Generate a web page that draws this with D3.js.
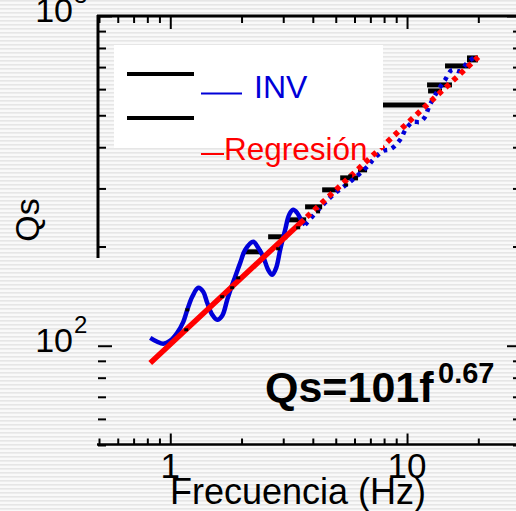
<!DOCTYPE html>
<html><head><meta charset="utf-8">
<script src="https://cdn.jsdelivr.net/npm/d3@7"></script>
<style>html,body{margin:0;padding:0;background:#fff;overflow:hidden}text{font-family:"Liberation Sans",Arial,sans-serif}</style>
</head><body>
<svg id="c" width="516" height="511"></svg>
<script>
// ---- data ----
const invF = [0.823,0.881,0.934,1.0,1.07,1.135,1.18,1.238,1.313,1.378,1.432,1.504,1.579,1.657,1.74,1.808,1.88,1.974,2.073,2.24,2.351,2.469,2.592,2.694,2.802,2.912,3.057,3.178,3.304,3.435,3.57,3.711,
              4.295,4.873,5.747,6.846,7.116,7.92,8.56,9.34,9.90,10.6,11.34,11.91,12.38,13.38,14.47,15.48,16.74,18.09,19.37];
const invQ = [105.7,102.8,101.4,103.6,109.5,118.2,128.5,140.8,149.9,145.8,135.0,124.2,119.9,123.3,137.9,149.9,161.9,178.4,195.4,206.6,198.2,186.1,169.9,164.1,172.4,195.4,224.7,249.5,258.3,252.9,240.9,232.7,
              261.9,286.9,314.1,351.2,363.6,389.8,395.4,421,454.6,477.3,477.3,494.2,530,588.5,640,686,681,725.5,751];
const invSolidEnd = 3.711;           // INV drawn solid up to this frequency, dotted after
const regF = [0.823, 20];            // Qs = 101 f^0.67
const regQ = [88.7, 751];
const bandF1 = [2.03,2.59,3.12,3.71,4.38,5.22,6.21,6.64,12.15,12.27,14.47,17.92];
const bandF2 = [2.44,3.12,3.75,4.38,5.12,6.21,6.78,11.91,15.48,14.05,18.45,19.93];
const bandQ  = [192.7,214,240.9,263.8,297,322.9,341.5,537.5,618,592.6,705.6,741];
const markF = [1.18,1.168,1.657,1.826,1.936,2.855,3.47,4.21,5.75,5.53];
const markQ = [128.5,111.8,140.8,149.9,160.7,196.8,227.9,254.7,327.5,307.5];
const xMajor = [1,10];
const xMinor = [0.5,0.6,0.7,0.8,0.9,2,3,4,5,6,7,8,9,20,30];
const yMajor = [100,1000];
const yMinor = [50,60,70,80,90,200,300,400,500,600,700,800,900];
const xTickLabels = ["1","10"];
const yTickBase = ["10","10"], yTickExp = ["2","3"];
const legendLabels = ["INV","Regresión"];
const equationText = "Qs=101f", equationExp = "0.67";
const xTitle = "Frecuencia (Hz)", yTitle = "Qs";

// ---- drawing ----
const svg = d3.select("#c");
const defs = svg.append("defs");
const pat = defs.append("pattern").attr("id","stripes").attr("patternUnits","userSpaceOnUse")
  .attr("width",8).attr("height",4);
pat.append("rect").attr("width",8).attr("height",4).attr("fill","#f9f9f9");
pat.append("rect").attr("y",0).attr("width",8).attr("height",1.6).attr("fill","#e6e6e6");
svg.append("rect").attr("width",516).attr("height",511).attr("fill","url(#stripes)");

const x = d3.scaleLog().domain([0.5,30]).range([99,520]);
const y = d3.scaleLog().domain([50,1000]).range([445,16]);

function axisG(axis, tx, ty){
  const g = svg.append("g").attr("transform",`translate(${tx},${ty})`).call(axis);
  g.select(".domain").remove();
  g.selectAll(".tick line").attr("stroke","#000").attr("stroke-width",2);
  g.selectAll(".tick text").remove();
  return g;
}
axisG(d3.axisBottom(x).tickValues(xMinor).tickSize(-6).tickFormat(""),0,444.5);
axisG(d3.axisBottom(x).tickValues(xMajor).tickSize(-11).tickFormat(""),0,444.5);
axisG(d3.axisTop(x).tickValues(xMinor).tickSize(-7).tickFormat(""),0,16);
axisG(d3.axisTop(x).tickValues(xMajor).tickSize(-13).tickFormat(""),0,16);
axisG(d3.axisLeft(y).tickValues(yMinor).tickSize(-8).tickFormat(""),98,0);
axisG(d3.axisLeft(y).tickValues(yMajor).tickSize(-14).tickFormat(""),98,0);
axisG(d3.axisRight(y).tickValues(yMinor).tickSize(-7).tickFormat(""),520,0);
axisG(d3.axisRight(y).tickValues(yMajor).tickSize(-13).tickFormat(""),520,0);

// frame lines
svg.append("line").attr("x1",97).attr("x2",520).attr("y1",16).attr("y2",16).attr("stroke","#000").attr("stroke-width",3);
svg.append("line").attr("x1",98).attr("x2",98).attr("y1",15).attr("y2",258).attr("stroke","#000").attr("stroke-width",3);
svg.append("line").attr("x1",97).attr("x2",520).attr("y1",444.5).attr("y2",444.5).attr("stroke","#000").attr("stroke-width",2.5);

// black band segments
svg.append("g").selectAll("line").data(bandQ).join("line")
  .attr("x1",(d,i)=>x(bandF1[i])).attr("x2",(d,i)=>x(bandF2[i]))
  .attr("y1",d=>y(d)).attr("y2",d=>y(d))
  .attr("stroke","#000").attr("stroke-width",(d,i)=>i===bandQ.length-1?7:5);

// INV curve
const line = d3.line().x(d=>x(d[0])).y(d=>y(d[1])).curve(d3.curveCatmullRom);
const inv = invF.map((f,i)=>[f,invQ[i]]);
const invSolid = inv.filter(d=>d[0]<=invSolidEnd);
const invDot = inv.filter(d=>d[0]>=invSolidEnd);
svg.append("path").attr("d",line(invSolid)).attr("fill","none").attr("stroke","#0000d8").attr("stroke-width",4.5).attr("stroke-linejoin","round");
svg.append("path").attr("d",line(invDot)).attr("fill","none").attr("stroke","#0000d8").attr("stroke-width",4.5).attr("stroke-dasharray","4,5");

// Regression
const reg = regF.map((f,i)=>[f,regQ[i]]);
const regPath = svg.append("path").attr("d",d3.line().x(d=>x(d[0])).y(d=>y(d[1]))(reg))
  .attr("fill","none").attr("stroke","#ff0000").attr("stroke-width",5.5);
const L = regPath.node().getTotalLength();
const dash = [210,4]; let s = 214; while(s<L+20){dash.push(5,5); s+=10;}
regPath.attr("stroke-dasharray",dash.join(","));

// small black markers
svg.append("g").selectAll("rect").data(markQ).join("rect")
  .attr("x",(d,i)=>x(markF[i])-2).attr("y",d=>y(d)-1.5).attr("width",4).attr("height",3).attr("fill","#000");

// legend
svg.append("rect").attr("x",114).attr("y",45).attr("width",269).attr("height",103).attr("fill","#fff");
svg.append("line").attr("x1",127).attr("x2",194).attr("y1",74).attr("y2",74).attr("stroke","#000").attr("stroke-width",4);
svg.append("line").attr("x1",127).attr("x2",194).attr("y1",118).attr("y2",118).attr("stroke","#000").attr("stroke-width",4);
svg.append("line").attr("x1",201).attr("x2",242).attr("y1",93.5).attr("y2",93.5).attr("stroke","#0000d8").attr("stroke-width",2);
svg.append("text").attr("x",254).attr("y",98).attr("font-size",32).attr("fill","#0000d8").text(legendLabels[0]);
svg.append("line").attr("x1",201).attr("x2",224).attr("y1",154).attr("y2",154).attr("stroke","#ff0000").attr("stroke-width",2);
svg.append("text").attr("x",224).attr("y",160).attr("font-size",31.5).attr("fill","#ff0000").text(legendLabels[1]);

// tick labels
xMajor.forEach((v,i)=>{
  svg.append("text").attr("x",x(v)).attr("y",478).attr("text-anchor","middle").attr("font-size",35).text(xTickLabels[i]);
});
yMajor.forEach((v,i)=>{
  svg.append("text").attr("x",73).attr("y",y(v)+6).attr("text-anchor","end").attr("font-size",34).text(yTickBase[i]);
  svg.append("text").attr("x",74).attr("y",y(v)-13).attr("font-size",24).text(yTickExp[i]);
});

// titles
svg.append("text").attr("x",298).attr("y",504).attr("text-anchor","middle").attr("font-size",36).text(xTitle);
svg.append("text").attr("transform","translate(39,220) rotate(-90)").attr("text-anchor","middle").attr("font-size",34).text(yTitle);

// equation
svg.append("text").attr("x",265).attr("y",402).attr("font-size",43).attr("font-weight","bold").text(equationText);
svg.append("text").attr("x",438).attr("y",383).attr("font-size",29).attr("font-weight","bold").text(equationExp);
</script>
</body></html>
